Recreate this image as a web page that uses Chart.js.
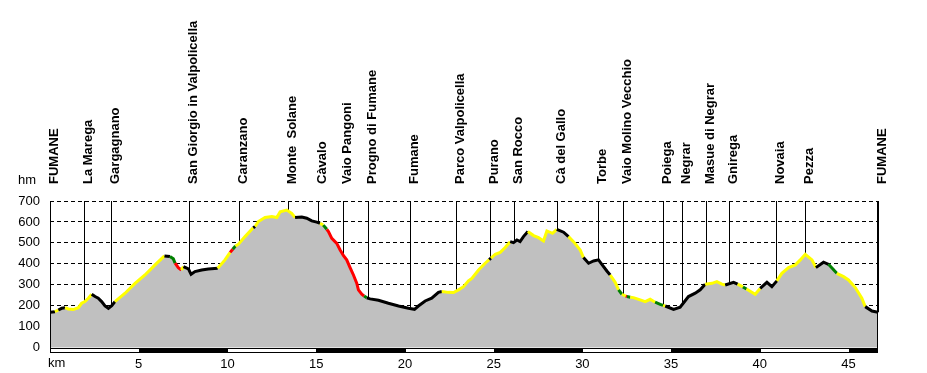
<!DOCTYPE html>
<html>
<head>
<meta charset="utf-8">
<script src="https://cdn.jsdelivr.net/npm/chart.js@4"></script>
<style>
  html, body { margin: 0; padding: 0; background: #fff; }
  #wrap { width: 927px; height: 373px; }
</style>
</head>
<body>
<div id="wrap"><canvas id="profile" width="927" height="373"></canvas></div>
<script>
// Route profile: distance (km) and altitude (m)
const km = [
    0.00, 0.28, 0.47, 0.66, 0.85, 1.03, 1.31, 1.60, 1.78, 1.97, 2.16, 2.35, 2.54, 2.72, 2.91, 3.10, 3.29, 3.48, 3.66,
    4.23, 4.79, 5.35, 5.92, 6.45, 6.76, 6.95, 7.05, 7.23, 7.40, 7.52, 7.80, 7.95, 8.17, 8.55, 8.92, 9.45, 9.86,
    10.15, 10.30, 10.45, 10.62, 10.99, 11.45, 11.56, 11.74, 12.12, 12.50, 12.78, 12.97, 13.34, 13.62, 13.81,
    14.19, 14.47, 14.75, 15.03, 15.22, 15.40, 15.60, 15.69, 15.88, 16.16, 16.35, 16.54, 16.72, 16.91, 17.10,
    17.29, 17.38, 17.57, 17.70, 17.85, 18.04, 18.51, 19.07, 19.64, 20.20, 20.54, 20.76, 21.14, 21.51, 21.89,
    22.08, 22.45, 22.74, 23.02, 23.30, 23.58, 23.77, 24.15, 24.52, 24.75, 24.85, 25.09, 25.37, 25.65, 25.93,
    26.12, 26.31, 26.49, 26.68, 26.93, 27.25, 27.53, 27.81, 28.00, 28.32, 28.56, 28.94, 29.22, 29.50, 29.88,
    30.06, 30.35, 30.63, 30.91, 31.10, 31.38, 31.57, 31.85, 32.04, 32.23, 32.45, 32.51, 32.70, 32.88, 33.26,
    33.54, 33.82, 34.10, 34.39, 34.55, 34.67, 35.14, 35.51, 35.98, 36.36, 36.64, 36.92, 37.30, 37.58, 37.86,
    38.05, 38.52, 38.75, 39.05, 39.25, 39.74, 40.02, 40.40, 40.68, 40.96, 41.24, 41.62, 42.00, 42.28, 42.56,
    42.94, 43.16, 43.59, 43.87, 44.34, 44.72, 45.00, 45.38, 45.75, 45.94, 46.32, 46.66
];
const elev = [
    169, 172, 180, 188, 191, 185, 182, 191, 212, 220, 236, 255, 244, 236, 220, 199, 188, 201, 220,
    260, 307, 347, 395, 438, 435, 424, 403, 382, 371, 387, 376, 350, 363, 371, 376, 379, 419,
    455, 470, 485, 494, 530, 572, 578, 602, 621, 626, 621, 649, 657, 641, 621,
    624, 618, 605, 599, 594, 585, 565, 554, 522, 498, 466, 439, 419, 382, 347,
    307, 276, 255, 247, 238, 233, 226, 212, 199, 188, 183, 199, 223, 236, 264,
    268, 264, 263, 276, 291, 319, 331, 371, 403, 420, 428, 446, 455, 478, 506,
    501, 514, 506, 530, 554, 535, 525, 509, 557, 546, 565, 551, 530, 506, 466,
    430, 403, 414, 419, 398, 366, 347, 312, 276, 255, 246, 244, 241, 239, 228,
    220, 231, 217, 207, 202, 199, 183, 193, 244, 260, 276, 303, 307, 315, 303,
    299, 312, 303, 290, 280, 255, 283, 312, 291, 319, 355, 382, 395, 419, 446,
    419, 382, 408, 398, 355, 339, 323, 287, 236, 196, 175, 169
];
// Surface class of each stretch (starting at the same index)
const surface = [
    'K', 'Y', 'K', 'K', 'Y', 'Y', 'Y', 'Y', 'Y', 'Y', 'Y', 'K', 'K', 'K', 'K', 'K', 'K', 'K', 'Y',
    'Y', 'Y', 'Y', 'Y', 'K', 'G', 'G', 'R', 'R', 'Y', 'K', 'K', 'K', 'K', 'K', 'K', 'Y', 'Y',
    'R', 'G', 'Y', 'Y', 'Y', 'K', 'Y', 'Y', 'Y', 'Y', 'Y', 'Y', 'Y', 'Y', 'K',
    'K', 'K', 'K', 'K', 'Y', 'G', 'R', 'R', 'R', 'R', 'R', 'R', 'R', 'R', 'R',
    'R', 'R', 'R', 'G', 'K', 'K', 'K', 'K', 'K', 'K', 'K', 'K', 'K', 'K', 'K',
    'Y', 'Y', 'Y', 'Y', 'Y', 'Y', 'Y', 'Y', 'Y', 'K', 'Y', 'Y', 'Y', 'Y', 'K',
    'K', 'K', 'K', 'K', 'Y', 'Y', 'Y', 'Y', 'Y', 'Y', 'K', 'K', 'Y', 'Y', 'Y',
    'K', 'K', 'K', 'K', 'K', 'K', 'Y', 'Y', 'G', 'Y', 'R', 'G', 'Y', 'Y', 'Y',
    'Y', 'Y', 'G', 'G', 'Y', 'K', 'K', 'K', 'K', 'K', 'K', 'Y', 'Y', 'Y', 'Y',
    'K', 'K', 'Y', 'G', 'Y', 'Y', 'K', 'K', 'K', 'Y', 'Y', 'Y', 'Y', 'Y', 'Y',
    'Y', 'K', 'K', 'G', 'Y', 'Y', 'Y', 'Y', 'Y', 'K', 'K', 'K'
];
const surfaceColors = { K: '#000000', Y: '#ffff00', G: '#008000', R: '#ff0000' };

// Places along the route
const locNames = [
    'FUMANE', 'La Marega', 'Gargagnano', 'San Giorgio in Valpolicella', 'Caranzano', 'Monte  Solane',
    'Càvalo', 'Vaio Pangoni', 'Progno di Fumane', 'Fumane', 'Parco Valpolicella', 'Purano', 'San Rocco',
    'Cà del Gallo', 'Torbe', 'Vaio Molino Vecchio', 'Poiega', 'Negrar', 'Masue di Negrar', 'Gnirega',
    'Novaia', 'Pezza', 'FUMANE'
];
const locKm = [
    0.00, 1.93, 3.46, 7.82, 10.67, 13.43, 15.12, 16.53, 17.94, 20.31, 22.90, 24.82, 26.12,
    28.58, 30.87, 32.30, 34.57, 35.59, 36.96, 38.24, 40.94, 42.56, 46.66
];

// Axis ticks
const kmTicks = [0, 5, 10, 15, 20, 25, 30, 35, 40, 45];
const hmTicks = [0, 100, 200, 300, 400, 500, 600, 700];

const FONT = "'Liberation Sans', Arial, sans-serif";
Chart.defaults.font.family = FONT;
Chart.defaults.font.size = 13;
Chart.defaults.color = '#000';

function elevAt(k) {
    for (let i = 1; i < km.length; i++) {
        if (k <= km[i]) {
            const t = (k - km[i - 1]) / (km[i] - km[i - 1]);
            return elev[i - 1] + t * (elev[i] - elev[i - 1]);
        }
    }
    return elev[elev.length - 1];
}

const points = km.map((k, i) => ({ x: k, y: elev[i] }));

// Vertical lines from the top of the plot down to the profile
const placeLines = {
    id: 'placeLines',
    beforeDatasetsDraw(chart) {
        const { ctx, chartArea, scales } = chart;
        ctx.save();
        ctx.strokeStyle = '#000';
        ctx.lineWidth = 1;
        locKm.forEach((k) => {
            const x = Math.round(scales.x.getPixelForValue(k)) + 0.5;
            const y = scales.y.getPixelForValue(elevAt(k));
            ctx.beginPath();
            ctx.moveTo(x, chartArea.top);
            ctx.lineTo(x, y);
            ctx.stroke();
        });
        ctx.restore();
    }
};

// Frame, km band, place names and unit labels
const decorations = {
    id: 'decorations',
    afterDatasetsDraw(chart) {
        const { ctx, chartArea, scales } = chart;
        const { left, right, top, bottom } = chartArea;
        ctx.save();

        // side borders
        ctx.strokeStyle = '#000';
        ctx.lineWidth = 1;
        ctx.beginPath();
        ctx.moveTo(Math.round(left) + 0.5, top);
        ctx.lineTo(Math.round(left) + 0.5, bottom + 4);
        ctx.moveTo(Math.round(right) - 0.5, top);
        ctx.lineTo(Math.round(right) - 0.5, bottom + 4);
        ctx.stroke();

        // alternating 5 km band under the plot
        const barTop = Math.round(bottom);
        ctx.fillStyle = '#000';
        ctx.fillRect(left, barTop, right - left, 5);
        ctx.fillStyle = '#fff';
        for (let i = 0; i < kmTicks.length; i += 2) {
            const x0 = scales.x.getPixelForValue(kmTicks[i]);
            const x1 = scales.x.getPixelForValue(Math.min(kmTicks[i] + 5, scales.x.max));
            ctx.fillRect(Math.round(x0) + 1, barTop + 1, Math.round(x1) - Math.round(x0) - 1, 3);
        }

        // place names, rotated
        ctx.fillStyle = '#000';
        ctx.font = 'bold 13px ' + FONT;
        ctx.textAlign = 'left';
        ctx.textBaseline = 'alphabetic';
        locNames.forEach((name, i) => {
            const x = Math.round(scales.x.getPixelForValue(locKm[i]));
            ctx.save();
            ctx.translate(x + 8, 184);
            ctx.rotate(-Math.PI / 2);
            ctx.fillText(name, 0, 0);
            ctx.restore();
        });

        // unit labels
        ctx.font = '13px ' + FONT;
        ctx.fillText('hm', 18, 184);
        ctx.textBaseline = 'middle';
        ctx.fillText('km', 48, 363);
        ctx.restore();
    }
};

const ctx = document.getElementById('profile').getContext('2d');
window.profileChart = new Chart(ctx, {
    type: 'line',
    data: {
        datasets: [
            {
                // coloured track line
                data: points,
                order: 1,
                borderColor: '#000',
                borderWidth: 3,
                fill: false,
                pointRadius: 0,
                tension: 0,
                segment: {
                    borderColor: (c) => surfaceColors[surface[c.p0DataIndex]]
                }
            },
            {
                // grey area under the profile
                data: points,
                order: 2,
                borderWidth: 0,
                borderColor: 'rgba(0,0,0,0)',
                backgroundColor: '#c0c0c0',
                fill: 'origin',
                pointRadius: 0,
                tension: 0
            }
        ]
    },
    options: {
        responsive: false,
        devicePixelRatio: 1,
        animation: false,
        layout: { padding: { top: 201, right: 49, left: 0, bottom: 0 } },
        plugins: {
            legend: { display: false },
            tooltip: { enabled: false }
        },
        scales: {
            x: {
                type: 'linear',
                min: 0,
                max: 46.66,
                afterBuildTicks: (scale) => { scale.ticks = kmTicks.map((v) => ({ value: v })); },
                afterFit: (scale) => { scale.height = 25.3; },
                grid: { display: false, drawTicks: false },
                border: { display: false },
                ticks: {
                    padding: 9,
                    maxRotation: 0,
                    autoSkip: false,
                    callback: (v) => (v === 0 ? '' : v)
                }
            },
            y: {
                min: 0,
                max: 700,
                afterBuildTicks: (scale) => { scale.ticks = hmTicks.map((v) => ({ value: v })); },
                afterFit: (scale) => { scale.width = 50; },
                grid: {
                    drawTicks: false,
                    color: (c) => (c.tick.value === 0 ? 'rgba(0,0,0,0)' : '#000'),
                    lineWidth: 1
                },
                border: { display: false, dash: [4, 3] },
                ticks: { padding: 10 }
            }
        }
    },
    plugins: [placeLines, decorations]
});
</script>
</body>
</html>
